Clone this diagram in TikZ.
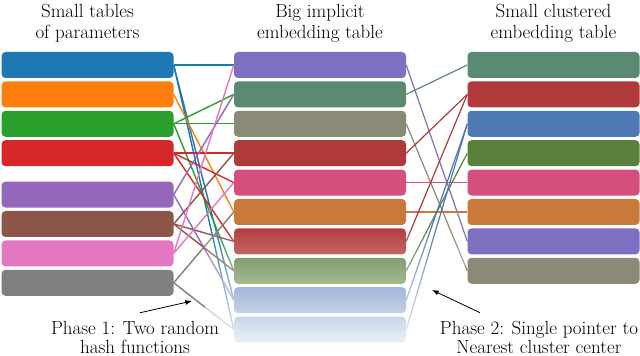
\documentclass[tikz,border=0pt]{standalone}
\usetikzlibrary{arrows.meta,positioning,fadings}

\definecolor{tblue}{HTML}{1F77B4}
\definecolor{torange}{HTML}{FF7F0E}
\definecolor{tgreen}{HTML}{2CA02C}
\definecolor{tred}{HTML}{D62728}
\definecolor{tpurple}{HTML}{9467BD}
\definecolor{tbrown}{HTML}{8C564B}
\definecolor{tpink}{HTML}{E377C2}
\definecolor{tgray}{HTML}{7F7F7F}
\definecolor{cteal}{HTML}{5B8A72}
\definecolor{cred}{HTML}{B03A3A}
\definecolor{cblue}{HTML}{4E79B5}
\definecolor{cgreen}{HTML}{59803D}
\definecolor{cpink}{HTML}{D44F7C}
\definecolor{corange}{HTML}{C9793A}
\definecolor{cpurple}{HTML}{7F6FC0}
\definecolor{cgray}{HTML}{8A8A76}

\tikzfading[name=fade bottom,top color=transparent!100,bottom color=transparent!0]

\begin{document}
\begin{tikzpicture}[x=1pt,y=1pt,>=Latex,node distance=3pt]
  \tikzstyle{row}=[rounded corners=4pt,minimum width=172pt,minimum height=26pt,inner sep=0pt]
  \tikzstyle{hash}=[line width=1.4pt]
  \tikzstyle{pointer}=[line width=1.2pt]
  \tikzstyle{title}=[align=center,inner sep=0pt,font=\fontsize{19}{21.5}\selectfont]
  \tikzstyle{phase}=[align=center,inner sep=0pt,font=\fontsize{19}{19.5}\selectfont]
  \useasboundingbox (0,0) rectangle (640,356);
  % small tables
  \node[row,fill=tblue] (s1) at (87.5,291) {};
  \node[row,fill=torange,below=of s1] (s2) {};
  \node[row,fill=tgreen,below=of s2] (s3) {};
  \node[row,fill=tred,below=of s3] (s4) {};
  \node[row,fill=tpurple,below=15pt of s4] (s5) {};
  \node[row,fill=tbrown,below=of s5] (s6) {};
  \node[row,fill=tpink,below=of s6] (s7) {};
  \node[row,fill=tgray,below=of s7] (s8) {};
  % big implicit table
  \node[row,fill=cpurple] (m1) at (320,291) {};
  \node[row,fill=cteal,below=of m1] (m2) {};
  \node[row,fill=cgray,below=of m2] (m3) {};
  \node[row,fill=cred,below=of m3] (m4) {};
  \node[row,fill=cpink,below=of m4] (m5) {};
  \node[row,fill=corange,below=of m5] (m6) {};
  \node[row,fill=cred,below=of m6] (m7) {};
  \node[row,fill=cgreen,below=of m7] (m8) {};
  \node[row,fill=cblue,below=of m8] (m9) {};
  \node[row,fill=cblue,below=of m9] (m10) {};
  % clustered table
  \node[row,fill=cteal] (c1) at (553.5,291) {};
  \node[row,fill=cred,below=of c1] (c2) {};
  \node[row,fill=cblue,below=of c2] (c3) {};
  \node[row,fill=cgreen,below=of c3] (c4) {};
  \node[row,fill=cpink,below=of c4] (c5) {};
  \node[row,fill=corange,below=of c5] (c6) {};
  \node[row,fill=cpurple,below=of c6] (c7) {};
  \node[row,fill=cgray,below=of c7] (c8) {};
  % phase 1
  \draw[hash,tblue] (s1.east) -- (m1.west);
  \draw[hash,tblue] (s1.east) -- (m9.west);
  \draw[hash,tblue] (s1.east) -- (m10.west);
  \draw[hash,torange] (s2.east) -- (m6.west);
  \draw[hash,tgreen] (s3.east) -- (m2.west);
  \draw[hash,tgreen] (s3.east) -- (m3.west);
  \draw[hash,tgreen] (s3.east) -- (m8.west);
  \draw[hash,tred] (s4.east) -- (m4.west);
  \draw[hash,tred] (s4.east) -- (m5.west);
  \draw[hash,tred] (s4.east) -- (m7.west);
  \draw[hash,tpurple] (s5.east) -- (m2.west);
  \draw[hash,tpurple] (s5.east) -- (m9.west);
  \draw[hash,tbrown] (s6.east) -- (m4.west);
  \draw[hash,tbrown] (s6.east) -- (m7.west);
  \draw[hash,tbrown] (s6.east) -- (m8.west);
  \draw[hash,tpink] (s7.east) -- (m1.west);
  \draw[hash,tpink] (s7.east) -- (m5.west);
  \draw[hash,tgray] (s8.east) -- (m6.west);
  \draw[hash,tgray] (s8.east) -- (m10.west);
  % phase 2
  \draw[pointer,cpurple] (m1.east) -- (c7.west);
  \draw[pointer,cteal] (m2.east) -- (c1.west);
  \draw[pointer,cgray] (m3.east) -- (c8.west);
  \draw[pointer,cred] (m4.east) -- (c2.west);
  \draw[pointer,cpink] (m5.east) -- (c5.west);
  \draw[pointer,corange] (m6.east) -- (c6.west);
  \draw[pointer,cred] (m7.east) -- (c2.west);
  \draw[pointer,cgreen] (m8.east) -- (c4.west);
  \draw[pointer,cblue] (m9.east) -- (c3.west);
  \draw[pointer,cblue] (m10.east) -- (c3.west);
  % fade out the bottom of the big table
  \fill[white,path fading=fade bottom] (205,0) rectangle (465,131);
  % titles
  \node[title,above=9pt of s1] (ts) {Small tables\\of parameters};
  \node[title,above=9pt of m1] (tm) {Big implicit\\embedding table};
  \node[title,above=9pt of c1] (tc) {Small clustered\\embedding table};
  % phases
  \node[phase,anchor=south] (ph1) at (135,2) {Phase 1: Two random\\hash functions};
  \node[phase,anchor=south] (ph2) at (539,2) {Phase 2: Single pointer to\\Nearest cluster center};
  \coordinate (hashes) at (192,55);
  \coordinate (pointers) at (432,66);
  \draw[->,thick] ([xshift=5pt,yshift=8pt]ph1.north) -- (hashes);
  \draw[->,thick] ([xshift=-59pt,yshift=8pt]ph2.north) -- (pointers);
\end{tikzpicture}
\end{document}
